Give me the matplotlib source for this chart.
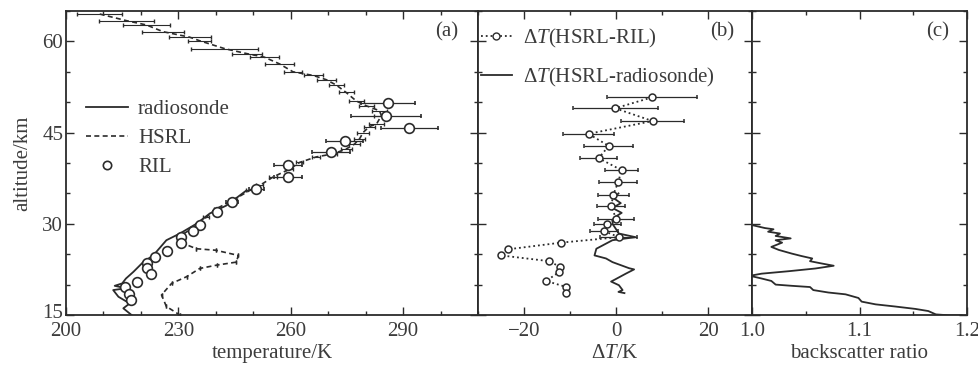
import matplotlib
matplotlib.use("Agg")
import matplotlib.pyplot as plt
from matplotlib.ticker import FixedLocator, MultipleLocator
from matplotlib.lines import Line2D
from matplotlib.transforms import ScaledTranslation

plt.rcParams["font.family"] = ["Liberation Serif", "DejaVu Serif"]
plt.rcParams["mathtext.fontset"] = "custom"
plt.rcParams["mathtext.rm"] = "Liberation Serif"
plt.rcParams["mathtext.it"] = "Liberation Serif:italic"

INK = "#2b2b2b"
TXT = "#3c3c3c"
FS = 15

# ---- panel (a): temperature profiles ----
sonde_alt = [15.0, 16.1, 16.9, 18.0, 19.1, 19.4, 19.8, 20.2, 21.0, 22.1, 23.7,
             24.8, 27.3, 28.4, 30.0, 31.7, 33.0, 35.5]
sonde_t = [217.5, 215.3, 217.0, 214.0, 212.6, 216.0, 213.0, 215.0, 216.0, 218.0,
           220.6, 223.3, 226.8, 230.4, 234.8, 238.4, 242.8, 248.2]

hsrl_alt = [64.5, 63.4, 62.7, 61.6, 60.7, 60.1, 58.8, 58.0, 57.4, 56.3, 55.0, 54.4,
            53.7, 52.8, 51.6, 50.2, 49.4, 48.6, 47.8, 46.4, 46.0, 45.0, 44.0, 43.1,
            42.3, 41.5, 41.0, 40.1, 39.0, 37.7, 36.3, 35.5, 33.9, 32.5, 31.1, 30.0,
            28.4, 27.0, 25.9, 25.65, 24.8, 23.7, 23.2, 22.65, 21.3, 20.2, 18.3, 16.4, 15.0]
hsrl_t = [209.0, 216.2, 221.5, 225.9, 233.0, 235.7, 242.4, 248.2, 253.0, 257.0, 260.6, 266.0,
          269.5, 272.2, 274.8, 277.5, 280.2, 283.7, 284.2, 282.9, 281.0, 279.3, 278.4, 277.0,
          274.8, 271.3, 266.8, 262.4, 259.7, 255.3, 251.7, 249.1, 244.6, 240.2, 237.5, 235.7,
          231.5, 230.4, 234.8, 240.0, 246.0, 245.5, 240.2, 235.7, 232.2, 228.2, 225.5, 226.8, 230.4]
hsrl_err = [6.0, 7.3, 6.4, 5.6, 5.6, 3.0, 8.9, 4.0, 4.0, 3.8, 2.5, 2.5,
            2.5, 2.0, 2.0, 2.0, 2.0, 2.0, 2.0, 2.0, 1.5, 1.5, 1.5, 1.5,
            1.5, 1.0, 1.0, 1.0, 1.0, 1.0, 1.0, 1.0, 1.0, 0.8, 0.8, 0.5,
            0, 0, 0, 0, 0, 0, 0, 0, 0, 0, 0, 0, 0]

ril_alt = [49.8, 47.8, 45.7, 43.7, 41.8, 39.7, 37.7, 35.7, 33.6, 31.9, 29.8, 28.8,
           27.8, 26.8, 25.6, 24.6, 23.6, 22.8, 21.8, 20.5, 19.6, 18.4, 17.4]
ril_t = [286.0, 285.5, 291.7, 274.4, 270.8, 259.3, 259.3, 250.8, 244.3, 240.3, 235.8, 233.9,
         230.8, 230.8, 226.9, 223.7, 221.6, 221.6, 222.6, 219.0, 215.8, 216.8, 217.3]
ril_err = [7.3, 9.3, 7.5, 5.0, 5.1, 3.8, 3.8, 2.0, 1.5, 1.0, 1.0, 0,
           0, 0, 0, 0, 0, 0, 0, 0, 0, 0, 0]

# ---- panel (b): temperature differences ----
dril_alt = [50.8, 49.0, 46.9, 44.8, 42.8, 40.8, 38.8, 36.8, 34.8, 32.9, 30.85, 30.0,
            28.8, 27.8, 26.9, 25.8, 24.8, 23.85, 22.9, 22.0, 20.6, 19.6, 18.7]
dril_dt = [7.8, -0.2, 7.9, -6.0, -1.6, -3.8, 1.2, 0.4, -0.6, -1.1, 0.0, -1.9,
           -2.6, 0.6, -12.0, -23.5, -25.0, -14.5, -12.2, -12.5, -15.2, -10.8, -10.9]
dril_err = [9.8, 9.2, 6.8, 5.5, 5.3, 4.0, 3.6, 4.1, 3.3, 3.0, 3.9, 3.0,
            3.0, 4.0, 0, 0, 0, 0, 0, 0, 0, 0, 0]

dson_alt = [35.0, 34.2, 33.4, 32.6, 31.8, 31.0, 30.0, 28.4, 27.8, 27.3, 25.9, 24.8,
            24.3, 23.7, 23.2, 22.7, 22.5, 21.8, 20.9, 20.5, 19.9, 19.1, 18.8, 18.6]
dson_dt = [0.5, -0.5, 1.0, -0.8, 1.2, -0.5, -0.8, 0.6, 4.2, -0.8, -4.3, -4.7,
           -2.2, -0.8, 1.0, 2.8, 3.9, 2.1, -0.1, -1.1, 0.6, 1.4, 0.5, 1.8]

# ---- panel (c): backscatter ratio ----
bsr_alt = [29.75, 29.3, 29.1, 28.7, 28.4, 28.0, 27.6, 27.3, 26.9, 26.2, 25.7, 25.1,
           24.7, 24.3, 23.85, 23.5, 23.1, 22.65, 22.2, 21.8, 21.45, 21.0, 20.6, 20.0,
           19.8, 19.6, 19.1, 18.7, 18.4, 17.8, 17.2, 16.75, 16.4, 16.0, 15.65, 15.1,
           14.95, 14.95]
bsr = [1.001, 1.012, 1.020, 1.015, 1.026, 1.022, 1.036, 1.022, 1.028, 1.018, 1.025, 1.037,
       1.046, 1.056, 1.054, 1.064, 1.076, 1.059, 1.034, 1.009, 0.998, 1.009, 1.018, 1.022,
       1.037, 1.054, 1.057, 1.071, 1.087, 1.099, 1.102, 1.115, 1.133, 1.152, 1.164, 1.171,
       1.183, 1.195]

fig = plt.figure(figsize=(9.79, 3.65), dpi=100)
bottom, height = 1 - 315 / 365, 304 / 365
ax_a = fig.add_axes([66 / 979, bottom, 412 / 979, height])
ax_b = fig.add_axes([478 / 979, bottom, 274 / 979, height])
ax_c = fig.add_axes([752 / 979, bottom, 215 / 979, height])

for ax in (ax_a, ax_b, ax_c):
    ax.set_ylim(15, 65)
    ax.yaxis.set_major_locator(FixedLocator([15, 30, 45, 60]))
    ax.yaxis.set_minor_locator(MultipleLocator(5))
    ax.tick_params(which="both", direction="in", top=True, right=True,
                   colors=INK, labelcolor=TXT, labelsize=FS, width=1.0)
    ax.tick_params(which="major", length=6, pad=2)
    ax.tick_params(axis="x", which="major", pad=5)
    ax.tick_params(which="minor", length=3)
    for sp in ax.spines.values():
        sp.set_linewidth(1.3)
        sp.set_color(INK)
for ax in (ax_b, ax_c):
    ax.tick_params(labelleft=False)

# (a)
ax_a.plot(sonde_t, sonde_alt, "-", color=INK, lw=1.3)
ax_a.plot(hsrl_t, hsrl_alt, "--", color=INK, lw=1.2, dashes=(3, 2))
ax_a.errorbar(hsrl_t, hsrl_alt, xerr=hsrl_err, fmt="none", ecolor=INK,
              elinewidth=0.8, capsize=1.5)
ax_a.errorbar(ril_t, ril_alt, xerr=ril_err, fmt="o", ms=7, mfc="white", mec=INK,
              mew=1.2, ecolor=INK, elinewidth=0.9, capsize=1.5)
ax_a.set_xlim(200, 310)
ax_a.xaxis.set_major_locator(FixedLocator([200, 230, 260, 290]))
ax_a.xaxis.set_minor_locator(MultipleLocator(10))
ax_a.set_xlabel("temperature/K", fontsize=FS, color=TXT, labelpad=2)
ax_a.set_ylabel("altitude/km", fontsize=FS, color=TXT, labelpad=7)
# the bottom "15" sits just above the "200" label, as in the original
lab15 = ax_a.yaxis.get_major_ticks()[0].label1
lab15.set_transform(lab15.get_transform() + ScaledTranslation(0, 4 / 100, fig.dpi_scale_trans))
h_a = [Line2D([], [], ls="-", color=INK, lw=1.3),
       Line2D([], [], ls="--", color=INK, lw=1.2, dashes=(3, 2)),
       Line2D([], [], ls="none", marker="o", ms=6, mfc="white", mec=INK, mew=1.2)]
ax_a.legend(h_a, ["radiosonde", "HSRL", "RIL"], loc="upper left",
            bbox_to_anchor=(0.028, 0.735), frameon=False, fontsize=FS,
            handlelength=2.0, handletextpad=0.5, labelspacing=0.45,
            labelcolor=TXT, borderaxespad=0)
ax_a.text(0.925, 0.93, "(a)", transform=ax_a.transAxes, ha="center", va="center",
          fontsize=FS, color=TXT)

# (b)
ax_b.plot(dson_dt, dson_alt, "-", color=INK, lw=1.3)
ax_b.plot(dril_dt, dril_alt, ":", color=INK, lw=1.3)
ax_b.errorbar(dril_dt, dril_alt, xerr=dril_err, fmt="o", ms=5, mfc="white", mec=INK,
              mew=1.1, ecolor=INK, elinewidth=0.9, capsize=1.5)
ax_b.set_xlim(-30, 29.5)
ax_b.xaxis.set_major_locator(FixedLocator([-20, 0, 20]))
ax_b.xaxis.set_minor_locator(MultipleLocator(10))
ax_b.set_xlabel(r"$\Delta T$/K", fontsize=FS, color=TXT, labelpad=2)
h_b = [Line2D([], [], ls=":", color=INK, lw=1.3, marker="o", ms=5,
              mfc="white", mec=INK, markevery=[1]),
       Line2D([], [], ls="-", color=INK, lw=1.3)]
ax_b.legend(h_b, [r"$\Delta T$(HSRL-RIL)", r"$\Delta T$(HSRL-radiosonde)"],
            loc="upper left", bbox_to_anchor=(-0.02, 0.975), frameon=False,
            fontsize=FS, handlelength=1.5, handletextpad=0.5, labelspacing=0.75,
            labelcolor=TXT, borderaxespad=0)
ax_b.text(0.89, 0.93, "(b)", transform=ax_b.transAxes, ha="center", va="center",
          fontsize=FS, color=TXT)

# (c)
ax_c.plot(bsr, bsr_alt, "-", color=INK, lw=1.3)
ax_c.set_xlim(1.0, 1.2)
ax_c.xaxis.set_major_locator(FixedLocator([1.0, 1.1, 1.2]))
ax_c.xaxis.set_minor_locator(MultipleLocator(0.05))
ax_c.set_xticklabels(["1.0", "1.1", "1.2"])
ax_c.set_xlabel("backscatter ratio", fontsize=FS, color=TXT, labelpad=2)
ax_c.text(0.865, 0.93, "(c)", transform=ax_c.transAxes, ha="center", va="center",
          fontsize=FS, color=TXT)

fig.savefig("out.png", dpi=100)
